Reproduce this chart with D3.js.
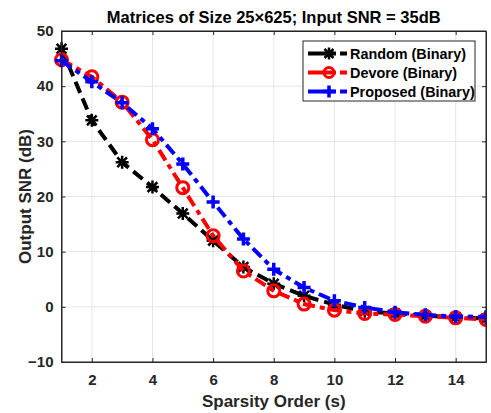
<!DOCTYPE html>
<html>
<head>
<meta charset="utf-8">
<script src="https://cdn.jsdelivr.net/npm/d3@7"></script>
<style>
  body { margin: 0; background: #fff; }
  svg text { font-family: 'Liberation Sans', Arial, Helvetica, sans-serif; font-weight: bold; }
</style>
</head>
<body>
<svg id="chart"></svg>
<script>
const sparsity = [1, 2, 3, 4, 5, 6, 7, 8, 9, 10, 11, 12, 13, 14, 15]
const randomSnr = [46.8, 33.8, 26.2, 21.7, 16.9, 12.0, 7.2, 4.2, 2.0, 0.4, -0.8, -1.2, -1.6, -1.9, -2.1]
const devoreSnr = [44.8, 41.7, 37.1, 30.3, 21.6, 12.9, 6.5, 2.9, 0.5, -0.6, -1.2, -1.4, -1.7, -2.0, -2.3]
const proposedSnr = [44.6, 40.8, 37.0, 32.3, 25.9, 19.0, 12.3, 6.8, 3.5, 1.1, -0.1, -1.0, -1.45, -1.75, -1.8]
const seriesNames = ['Random (Binary)', 'Devore (Binary)', 'Proposed (Binary)']
const xTicks = [2, 4, 6, 8, 10, 12, 14]
const yTicks = [-10, 0, 10, 20, 30, 40, 50]

const W = 491
const H = 413
const margin = { top: 31, left: 61.5, right: 5, bottom: 51 }
const width = W - margin.left - margin.right
const height = H - margin.top - margin.bottom

const svg = d3.select('#chart').attr('width', W).attr('height', H)
const g = svg.append('g').attr('transform', 'translate(' + margin.left + ',' + margin.top + ')')

const x = d3.scaleLinear().domain([1, 15]).range([0, width])
const y = d3.scaleLinear().domain([-10, 50]).range([height, 0])

const axisColor = '#262626'

// grid
g.append('g').selectAll('line').data(xTicks).join('line')
  .attr('x1', d => x(d)).attr('x2', d => x(d)).attr('y1', 0).attr('y2', height)
  .attr('stroke', '#e6e6e6').attr('stroke-width', 1)
g.append('g').selectAll('line').data(yTicks).join('line')
  .attr('x1', 0).attr('x2', width).attr('y1', d => y(d)).attr('y2', d => y(d))
  .attr('stroke', '#e6e6e6').attr('stroke-width', 1)

// axes
const xAxis = g.append('g').attr('transform', 'translate(0,' + height + ')')
  .call(d3.axisBottom(x).tickValues(xTicks).tickSizeInner(-4).tickSizeOuter(0).tickPadding(12))
const xTop = g.append('g')
  .call(d3.axisTop(x).tickValues(xTicks).tickSizeInner(-4).tickSizeOuter(0).tickFormat(''))
const yAxis = g.append('g')
  .call(d3.axisLeft(y).tickValues(yTicks).tickSizeInner(-4).tickSizeOuter(0).tickPadding(8))
const yRight = g.append('g').attr('transform', 'translate(' + width + ',0)')
  .call(d3.axisRight(y).tickValues(yTicks).tickSizeInner(-4).tickSizeOuter(0).tickFormat(''))

;[xAxis, xTop, yAxis, yRight].forEach(a => {
  a.selectAll('path, line').attr('stroke', axisColor)
  a.selectAll('text').attr('fill', axisColor).attr('font-size', 15).attr('font-weight', 'bold')
})

// series
const series = [
  { name: seriesNames[0], values: randomSnr, color: '#000000', dash: '12,6', marker: 'star' },
  { name: seriesNames[1], values: devoreSnr, color: '#ff0000', dash: '12,5,5,5', marker: 'circle' },
  { name: seriesNames[2], values: proposedSnr, color: '#0000ff', dash: '12,5,5,5', marker: 'plus' }
]

const line = d3.line().x((d, i) => x(sparsity[i])).y(d => y(d))

const clip = svg.append('clipPath').attr('id', 'clip')
  .append('rect').attr('x', -8).attr('y', -20).attr('width', width + 8).attr('height', height + 20)

function drawMarker(sel, type, color, cx, cy, s) {
  if (type === 'circle') {
    sel.append('circle').attr('cx', cx).attr('cy', cy).attr('r', s)
      .attr('fill', 'none').attr('stroke', color).attr('stroke-width', 3)
  } else if (type === 'plus') {
    sel.append('path')
      .attr('d', `M${cx - s},${cy}H${cx + s}M${cx},${cy - s}V${cy + s}`)
      .attr('stroke', color).attr('stroke-width', 3.5)
  } else {
    const a = s * 0.75
    sel.append('path')
      .attr('d', `M${cx - s},${cy}H${cx + s}M${cx},${cy - s}V${cy + s}M${cx - a},${cy - a}L${cx + a},${cy + a}M${cx - a},${cy + a}L${cx + a},${cy - a}`)
      .attr('stroke', color).attr('stroke-width', 2.5)
  }
}

series.forEach(s => {
  const sg = g.append('g').attr('clip-path', 'url(#clip)')
  sg.append('path').datum(s.values).attr('d', line)
    .attr('fill', 'none').attr('stroke', s.color).attr('stroke-width', 4)
    .attr('stroke-dasharray', s.dash)
  s.values.forEach((v, i) => {
    drawMarker(sg, s.marker, s.color, x(sparsity[i]), y(v), s.marker === 'circle' ? 6 : 6.5)
  })
})

// box
g.append('rect').attr('width', width).attr('height', height)
  .attr('fill', 'none').attr('stroke', axisColor).attr('stroke-width', 1)

// title
svg.append('text').attr('x', margin.left + width / 2).attr('y', 23)
  .attr('text-anchor', 'middle').attr('font-size', 16.5).attr('fill', '#000')
  .text('Matrices of Size 25\u00d7625; Input SNR = 35dB')

// axis labels
svg.append('text').attr('x', margin.left + width / 2).attr('y', 407)
  .attr('text-anchor', 'middle').attr('font-size', 17).attr('fill', axisColor)
  .text('Sparsity Order (s)')
svg.append('text')
  .attr('transform', 'translate(31,' + (margin.top + height / 2) + ') rotate(-90)')
  .attr('text-anchor', 'middle').attr('font-size', 17).attr('fill', axisColor)
  .text('Output SNR (dB)')

// legend
const lg = svg.append('g').attr('transform', 'translate(303,41)')
lg.append('rect').attr('width', 172).attr('height', 60)
  .attr('fill', '#fff').attr('stroke', axisColor).attr('stroke-width', 1)
series.forEach((s, i) => {
  const ly = 12.5 + i * 19
  lg.append('path').attr('d', `M5,${ly}H44`).attr('stroke', s.color).attr('stroke-width', 4)
    .attr('stroke-dasharray', '28,4,7,20')
  drawMarker(lg, s.marker, s.color, 26, ly, s.marker === 'circle' ? 5 : 6)
  lg.append('text').attr('x', 47).attr('y', ly + 5).attr('font-size', 14.4).attr('fill', '#000')
    .text(s.name)
})
</script>
</body>
</html>
